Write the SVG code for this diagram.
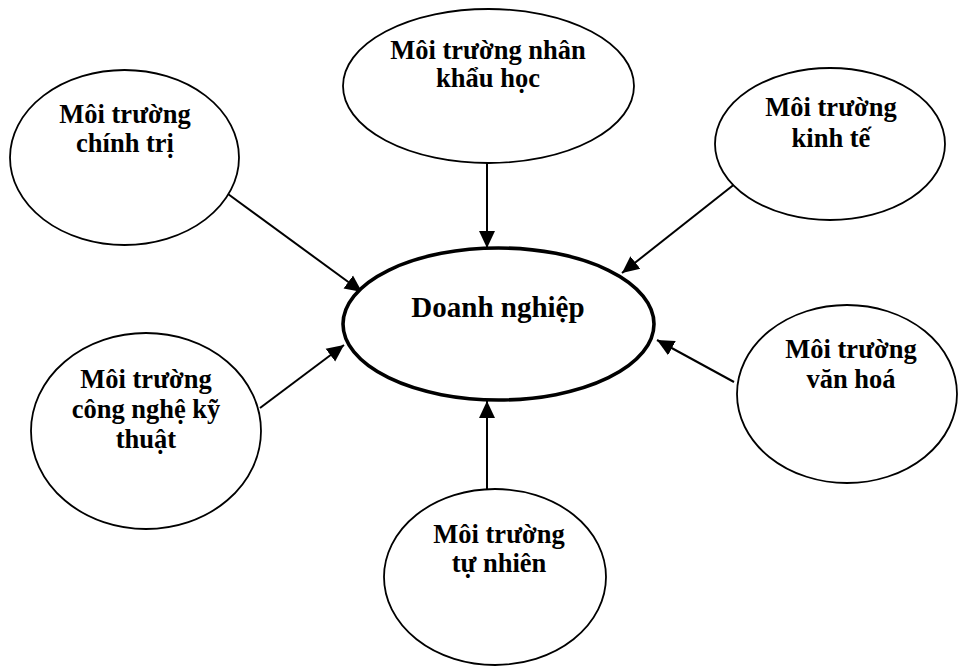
<svg xmlns="http://www.w3.org/2000/svg" width="958" height="666" viewBox="0 0 958 666">
<style>
.node ellipse{fill:#fff;stroke:#000;stroke-width:1.8}
#doanhnghiep ellipse{stroke-width:3.6}
text{font-family:"Liberation Serif","Times New Roman",serif;font-weight:bold;font-size:26.5px;text-anchor:middle;fill:#000}
#doanhnghiep text{font-size:29px}
.conn line{stroke:#000;stroke-width:2;marker-end:url(#ah)}
</style>
<defs>
<marker id="ah" markerUnits="userSpaceOnUse" markerWidth="18" markerHeight="18" refX="17" refY="8" orient="auto" viewBox="0 0 18 16">
<path d="M0,0 L17,8 L0,16 z" fill="#000"/>
</marker>
</defs>
<rect width="958" height="666" fill="#fff"/>
<g class="conn" id="connectors">
<line x1="228" y1="194" x2="362" y2="292"/>
<line x1="487" y1="163" x2="487" y2="248"/>
<line x1="736" y1="183" x2="622" y2="273"/>
<line x1="260" y1="408" x2="344" y2="345"/>
<line x1="734" y1="382" x2="657" y2="340"/>
<line x1="487" y1="493" x2="487" y2="401"/>
</g>
<g class="node" id="chinhtri">
<ellipse cx="124.5" cy="157.5" rx="114.5" ry="87.5"/>
<text x="125" y="123">Môi trường</text>
<text x="125" y="152">chính trị</text>
</g>
<g class="node" id="nhankhau">
<ellipse cx="488.5" cy="86" rx="145.5" ry="77"/>
<text x="488" y="59">Môi trường nhân</text>
<text x="488" y="87">khẩu học</text>
</g>
<g class="node" id="kinhte">
<ellipse cx="830" cy="144" rx="115" ry="76"/>
<text x="831" y="116">Môi trường</text>
<text x="831" y="147">kinh tế</text>
</g>
<g class="node" id="doanhnghiep">
<ellipse cx="498.5" cy="324" rx="155.5" ry="76"/>
<text x="498" y="317">Doanh nghiệp</text>
</g>
<g class="node" id="congnghe">
<ellipse cx="146" cy="431" rx="115" ry="98"/>
<text x="146" y="388">Môi trường</text>
<text x="146" y="418">công nghệ kỹ</text>
<text x="146" y="448">thuật</text>
</g>
<g class="node" id="vanhoa">
<ellipse cx="847" cy="394" rx="110" ry="89"/>
<text x="851" y="358">Môi trường</text>
<text x="851" y="388">văn hoá</text>
</g>
<g class="node" id="tunhien">
<ellipse cx="495" cy="577" rx="111" ry="88"/>
<text x="499" y="543">Môi trường</text>
<text x="499" y="572">tự nhiên</text>
</g>
</svg>
